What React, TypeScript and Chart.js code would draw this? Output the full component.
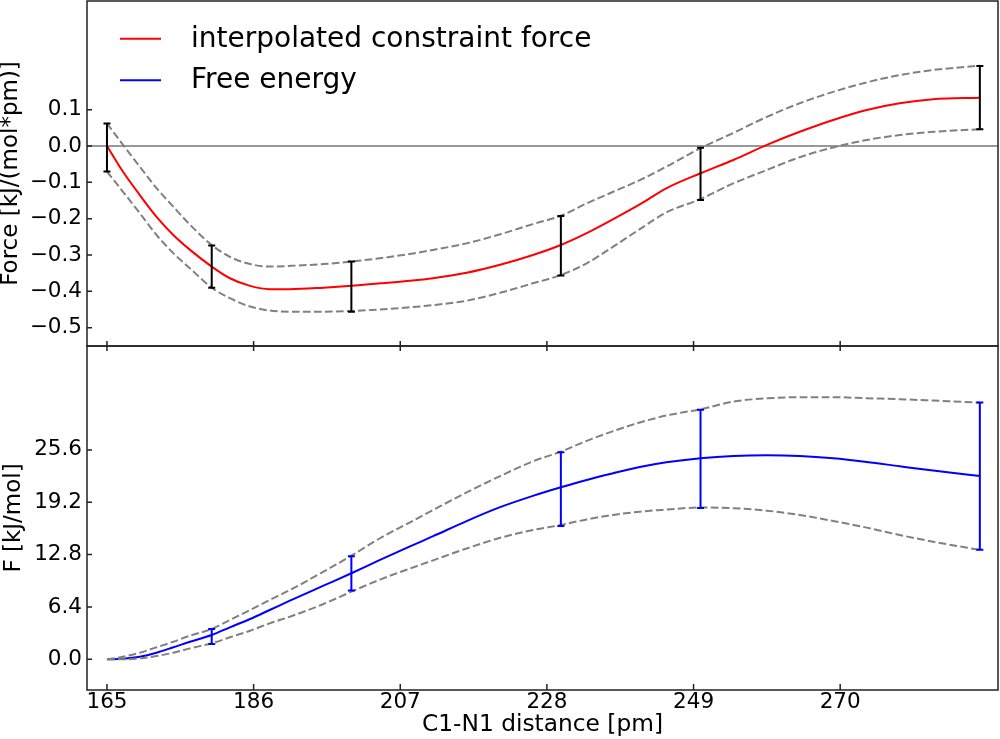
import React, { useEffect, useRef } from "react";
import { Chart, registerables } from "chart.js";

Chart.register(...registerables);

const FONT = "'DejaVu Sans', 'Noto Sans', sans-serif";

// axis ticks
const xTicks = [165, 186, 207, 228, 249, 270];
const forceTicks = [-0.5, -0.4, -0.3, -0.2, -0.1, 0.0, 0.1];
const energyTicks = [0, 6.4, 12.8, 19.2, 25.6];

// positions (pm) at which the interpolated curves were read
const sampleX = [165, 167.3, 169.7, 172.1, 174.5, 176.9, 180, 182.6, 185.5, 188.3, 191.2, 196, 200, 204.1, 208.4, 211.7, 216.5, 221.3, 226, 230, 233.7, 237.5, 241.3, 245.1, 250, 254.7, 259.5, 264.2, 269, 273.8, 278.5, 283.3, 290];

// interpolated constraint force and its error band
const forceSpline = [0, -0.071, -0.135, -0.195, -0.245, -0.286, -0.332, -0.364, -0.385, -0.394, -0.394, -0.39, -0.385, -0.378, -0.371, -0.364, -0.349, -0.327, -0.3, -0.2725, -0.24, -0.2015, -0.161, -0.1165, -0.075, -0.0385, 0.003, 0.039, 0.0716, 0.099, 0.1175, 0.1285, 0.133];
const forceUpper = [0.062, 0.003, -0.057, -0.116, -0.167, -0.217, -0.2725, -0.305, -0.325, -0.332, -0.33, -0.325, -0.318, -0.309, -0.297, -0.286, -0.268, -0.243, -0.215, -0.192, -0.158, -0.126, -0.094, -0.057, -0.006, 0.036, 0.08, 0.1175, 0.149, 0.175, 0.195, 0.209, 0.221];
const forceLower = [-0.0707, -0.126, -0.185, -0.245, -0.295, -0.337, -0.39, -0.419, -0.442, -0.453, -0.456, -0.456, -0.454, -0.45, -0.444, -0.438, -0.426, -0.404, -0.378, -0.355, -0.323, -0.277, -0.229, -0.183, -0.146, -0.103, -0.066, -0.031, -0.004, 0.0165, 0.03, 0.039, 0.046];

// free energy and its error band
const energySpline = [0, 0.08, 0.32, 0.81, 1.47, 2.15, 2.97, 3.91, 4.93, 6.03, 7.17, 9.0, 10.52, 12.15, 13.8, 15.05, 16.9, 18.6, 19.98, 21.03, 21.93, 22.75, 23.5, 24.08, 24.58, 24.86, 24.95, 24.86, 24.58, 24.13, 23.6, 23.07, 22.42];
const energyUpper = [0, 0.32, 0.81, 1.47, 2.15, 2.89, 3.71, 4.81, 6.03, 7.25, 8.47, 10.71, 12.67, 14.8, 16.75, 18.25, 20.4, 22.4, 24.2, 25.39, 26.7, 27.9, 28.95, 29.8, 30.57, 31.5, 31.9, 32.04, 32.04, 31.92, 31.8, 31.63, 31.38];
const energyLower = [0, 0, 0.12, 0.4, 0.81, 1.34, 1.96, 2.69, 3.5, 4.4, 5.21, 6.76, 8.27, 9.75, 11.1, 12.1, 13.55, 14.85, 15.8, 16.42, 17.1, 17.65, 18.05, 18.3, 18.56, 18.47, 18.17, 17.65, 16.91, 16.1, 15.2, 14.38, 13.37];

// sampled points with error bars
const pointX = [165, 180, 200, 230, 250, 290];
const forceMean = [-0.004, -0.332, -0.387, -0.2745, -0.077, 0.133];
const forceErr = [0.066, 0.058, 0.069, 0.082, 0.072, 0.087];
const energyMean = [0, 2.8, 10.5, 20.8, 24.5, 22.4];
const energyErr = [0, 0.92, 2.1, 4.5, 6.0, 9.0];

const toXY = (xs: number[], ys: number[]) => xs.map((x, i) => ({ x, y: ys[i] }));
const fmt = (v: number) => (v < -1e-9 ? "\u2212" : "") + Math.abs(v).toFixed(1);

const decorPlugin = {
  id: "decor",
  beforeDatasetsDraw(chart: any) {
    const { ctx, chartArea } = chart;
    const yf = chart.scales.yForce;
    const y0 = yf.getPixelForValue(0);
    ctx.save();
    ctx.strokeStyle = "#333333";
    ctx.lineWidth = 1.1;
    ctx.beginPath();
    ctx.moveTo(chartArea.left, y0);
    ctx.lineTo(chartArea.right, y0);
    ctx.stroke();
    ctx.restore();
  },
  afterDatasetsDraw(chart: any) {
    const { ctx } = chart;
    const xs = chart.scales.x;
    const groups = [
      { scale: chart.scales.yForce, mean: forceMean, err: forceErr, color: "#000000" },
      { scale: chart.scales.yEnergy, mean: energyMean, err: energyErr, color: "#0000ff" },
    ];
    ctx.save();
    ctx.lineWidth = 2;
    for (const g of groups) {
      ctx.strokeStyle = g.color;
      pointX.forEach((xv, i) => {
        if (!g.err[i]) return;
        const px = xs.getPixelForValue(xv);
        const hi = g.scale.getPixelForValue(g.mean[i] + g.err[i]);
        const lo = g.scale.getPixelForValue(g.mean[i] - g.err[i]);
        ctx.beginPath();
        ctx.moveTo(px, hi);
        ctx.lineTo(px, lo);
        ctx.moveTo(px - 3.5, hi);
        ctx.lineTo(px + 3.5, hi);
        ctx.moveTo(px - 3.5, lo);
        ctx.lineTo(px + 3.5, lo);
        ctx.stroke();
      });
    }
    ctx.restore();
  },
  afterDraw(chart: any) {
    const { ctx, chartArea } = chart;
    const { left, right, bottom } = chartArea;
    const xs = chart.scales.x;
    const yf = chart.scales.yForce;
    const ye = chart.scales.yEnergy;
    ctx.save();
    ctx.strokeStyle = "#222222";
    ctx.lineWidth = 1.5;
    ctx.strokeRect(left, yf.top, right - left, yf.bottom - yf.top);
    ctx.strokeRect(left, ye.top, right - left, ye.bottom - ye.top);
    ctx.beginPath();
    const mid = yf.bottom;
    xTicks.forEach((v) => {
      const px = xs.getPixelForValue(v);
      ctx.moveTo(px, mid - 5);
      ctx.lineTo(px, mid + 5);
      ctx.moveTo(px, bottom - 6);
      ctx.lineTo(px, bottom);
    });
    forceTicks.forEach((v) => {
      const py = yf.getPixelForValue(v);
      ctx.moveTo(left, py);
      ctx.lineTo(left + 5, py);
    });
    energyTicks.forEach((v) => {
      const py = ye.getPixelForValue(v);
      ctx.moveTo(left, py);
      ctx.lineTo(left + 5, py);
    });
    ctx.stroke();

    // legend
    const entries = chart.data.datasets.filter((d: any) => d.label);
    ctx.font = `28px ${FONT}`;
    ctx.textBaseline = "middle";
    ctx.textAlign = "left";
    entries.forEach((d: any, i: number) => {
      const y = yf.top + 37.7 + i * 41.6;
      ctx.strokeStyle = d.borderColor;
      ctx.lineWidth = 2;
      ctx.beginPath();
      ctx.moveTo(left + 33, y);
      ctx.lineTo(left + 74, y);
      ctx.stroke();
      ctx.fillStyle = "#000000";
      ctx.fillText(d.label, left + 104, y + 0.8);
    });
    ctx.restore();
  },
};

const zeroPad = (s: any) => {
  s.paddingTop = 0;
  s.paddingBottom = 0;
  s.paddingLeft = 0;
  s.paddingRight = 0;
};

export default function App() {
  const canvasRef = useRef<HTMLCanvasElement | null>(null);

  useEffect(() => {
    if (!canvasRef.current) return;
    const dashed = (data: { x: number; y: number }[], axis: string) => ({
      label: "",
      data,
      yAxisID: axis,
      borderColor: "#808080",
      borderWidth: 2,
      borderDash: [7.7, 3.3],
      pointRadius: 0,
      cubicInterpolationMode: "monotone" as const,
      fill: false,
    });
    const chart = new Chart(canvasRef.current, {
      type: "line",
      data: {
        datasets: [
          dashed(toXY(sampleX, forceUpper), "yForce"),
          dashed(toXY(sampleX, forceLower), "yForce"),
          dashed(toXY(sampleX, energyUpper), "yEnergy"),
          dashed(toXY(sampleX, energyLower), "yEnergy"),
          {
            label: "interpolated constraint force",
            data: toXY(sampleX, forceSpline),
            yAxisID: "yForce",
            borderColor: "#ff0000",
            borderWidth: 2,
            pointRadius: 0,
            cubicInterpolationMode: "monotone",
            fill: false,
          },
          {
            label: "Free energy",
            data: toXY(sampleX, energySpline),
            yAxisID: "yEnergy",
            borderColor: "#0000ff",
            borderWidth: 2,
            pointRadius: 0,
            cubicInterpolationMode: "monotone",
            fill: false,
          },
        ],
      },
      options: {
        responsive: false,
        animation: false,
        events: [],
        layout: { autoPadding: false, padding: { top: 1, right: 2, bottom: 0, left: 0 } },
        plugins: { legend: { display: false }, tooltip: { enabled: false } },
        scales: {
          x: {
            type: "linear",
            position: "bottom",
            min: 162.14,
            max: 292.6,
            afterBuildTicks: (s: any) => {
              s.ticks = xTicks.map((value) => ({ value }));
            },
            afterFit: (s: any) => {
              s.height = 49;
              zeroPad(s);
            },
            grid: { display: false, drawTicks: false },
            border: { display: false },
            ticks: {
              autoSkip: false,
              maxRotation: 0,
              padding: 0,
              color: "#000000",
              font: { family: FONT, size: 21.5 },
              callback: (v: any) => String(v),
            },
            title: {
              display: true,
              text: "C1-N1 distance [pm]",
              color: "#000000",
              font: { family: FONT, size: 23.3, lineHeight: 1.2 },
              padding: { top: 0, bottom: 0 },
            },
          },
          yEnergy: {
            type: "linear",
            position: "left",
            stack: "panels",
            stackWeight: 344,
            min: -3.75,
            max: 38.3,
            afterBuildTicks: (s: any) => {
              s.ticks = energyTicks.map((value) => ({ value }));
            },
            afterFit: (s: any) => {
              s.width = 87;
              zeroPad(s);
            },
            grid: { display: false, drawTicks: false },
            border: { display: false },
            ticks: {
              autoSkip: false,
              padding: 5,
              color: "#000000",
              font: { family: FONT, size: 21.5 },
              callback: (v: any) => fmt(Number(v)),
            },
            title: {
              display: true,
              text: "F [kJ/mol]",
              color: "#000000",
              font: { family: FONT, size: 23, lineHeight: 1 },
              padding: { top: 2.5, bottom: 0 },
            },
          },
          yForce: {
            type: "linear",
            position: "left",
            stack: "panels",
            stackWeight: 345,
            min: -0.5505,
            max: 0.399,
            afterBuildTicks: (s: any) => {
              s.ticks = forceTicks.map((value) => ({ value }));
            },
            afterFit: (s: any) => {
              s.width = 87;
              zeroPad(s);
            },
            grid: { display: false, drawTicks: false },
            border: { display: false },
            ticks: {
              autoSkip: false,
              padding: 5,
              color: "#000000",
              font: { family: FONT, size: 21.5 },
              callback: (v: any) => fmt(Number(v)),
            },
            title: {
              display: true,
              text: "Force [kJ/(mol*pm)]",
              color: "#000000",
              font: { family: FONT, size: 23, lineHeight: 1 },
              padding: { top: 0, bottom: 0 },
            },
          },
        },
      } as any,
      plugins: [decorPlugin],
    });
    return () => chart.destroy();
  }, []);

  return (
    <div style={{ position: "absolute", left: 0, top: 0, width: 1000, height: 739, background: "#ffffff" }}>
      <canvas ref={canvasRef} width={1000} height={739} style={{ display: "block", width: 1000, height: 739 }} />
    </div>
  );
}
